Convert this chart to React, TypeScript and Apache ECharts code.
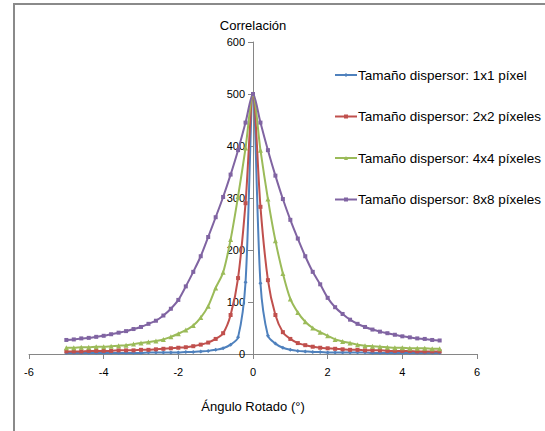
import React, { useEffect, useRef } from "react";
import * as echarts from "echarts";

const angles = [
  -5, -4.8, -4.6, -4.4, -4.2, -4, -3.8, -3.6, -3.4, -3.2, -3, -2.8, -2.6, -2.4, -2.2, -2, -1.8, -1.6, -1.4, -1.2, -1, -0.8, -0.6, -0.4, -0.2,
  0,
  0.2, 0.4, 0.6, 0.8, 1, 1.2, 1.4, 1.6, 1.8, 2, 2.2, 2.4, 2.6, 2.8, 3, 3.2, 3.4, 3.6, 3.8, 4, 4.2, 4.4, 4.6, 4.8, 5,
];

const serie1x1 = [
  2, 2, 2, 2, 2, 2, 2, 2, 2, 2, 2, 3, 3, 3, 3, 3, 4, 4, 5, 6, 8, 11, 18, 32, 138,
  500,
  136, 35, 20, 12, 8, 6, 5, 4, 4, 3, 3, 3, 3, 3, 3, 2, 2, 2, 2, 2, 2, 2, 2, 2, 2,
];
const serie2x2 = [
  5, 5, 5, 6, 6, 6, 6, 7, 7, 7, 8, 8, 9, 10, 11, 12, 13, 15, 18, 22, 29, 40, 75, 146, 290,
  500,
  283, 142, 75, 42, 29, 21, 17, 14, 12, 11, 10, 9, 8, 8, 7, 7, 7, 6, 6, 6, 6, 5, 5, 5, 5,
];
const serie4x4 = [
  12, 12, 13, 13, 14, 14, 15, 16, 17, 19, 21, 23, 25, 28, 33, 39, 46, 55, 70, 92, 127, 157, 220, 303, 396,
  500,
  392, 298, 218, 155, 106, 80, 62, 50, 42, 35, 28, 24, 21, 18, 16, 15, 14, 13, 12, 12, 11, 11, 11, 10, 10,
];
const serie8x8 = [
  27, 28, 30, 31, 33, 35, 38, 41, 44, 48, 52, 58, 64, 74, 87, 104, 130, 158, 188, 225, 263, 302, 345, 392, 445,
  500,
  445, 392, 343, 298, 258, 222, 188, 158, 134, 108, 90, 77, 66, 58, 52, 47, 43, 40, 37, 34, 32, 30, 29, 27, 26,
];

const seriesNames = [
  "Tamaño dispersor: 1x1 píxel",
  "Tamaño dispersor: 2x2 píxeles",
  "Tamaño dispersor: 4x4 píxeles",
  "Tamaño dispersor: 8x8 píxeles",
];
const seriesValues = [serie1x1, serie2x2, serie4x4, serie8x8];
const colors = ["#4F81BD", "#C0504D", "#9BBB59", "#8064A2"];
const symbols = ["diamond", "rect", "triangle", "rect"];

const xAxisTitle = "Ángulo Rotado (°)";
const yAxisTitle = "Correlación";

const FONT = "'Liberation Sans', Arial, sans-serif";

export default function App() {
  const ref = useRef<HTMLDivElement>(null);
  useEffect(() => {
    if (!ref.current) return;
    const chart = echarts.init(ref.current, null, { renderer: "svg" });
    chart.setOption({
      animation: false,
      backgroundColor: "#ffffff",
      textStyle: { fontFamily: FONT },
      graphic: [
        {
          type: "rect",
          shape: { x: 14, y: 4, width: 700, height: 600 },
          style: { fill: "none", stroke: "#8a8a8a", lineWidth: 2 },
          silent: true,
        },
      ],
      grid: { left: 29, right: 68, top: 42, bottom: 77 },
      legend: {
        orient: "vertical",
        left: 329,
        top: 63,
        itemWidth: 22,
        itemHeight: 5,
        itemGap: 27.5,
        textStyle: { fontFamily: FONT, fontSize: 13.5, color: "#000", padding: [0, 0, 0, -4] },
        data: seriesNames,
      },
      xAxis: {
        type: "value",
        min: -6,
        max: 6,
        interval: 2,
        name: xAxisTitle,
        nameLocation: "middle",
        nameGap: 46,
        nameTextStyle: { fontFamily: FONT, fontSize: 13, color: "#000" },
        axisLine: { onZero: false, lineStyle: { color: "#868686", width: 1 } },
        axisTick: { show: true, length: 5, lineStyle: { color: "#868686" } },
        axisLabel: { fontFamily: FONT, fontSize: 11, color: "#000", margin: 12 },
        splitLine: { show: false },
      },
      yAxis: {
        type: "value",
        min: 0,
        max: 600,
        interval: 100,
        offset: -224,
        name: yAxisTitle,
        nameLocation: "end",
        nameGap: 10,
        nameTextStyle: { fontFamily: FONT, fontSize: 13, color: "#000", align: "center" },
        axisLine: { show: true, onZero: false, lineStyle: { color: "#868686", width: 1 } },
        axisTick: { show: true, length: 5, lineStyle: { color: "#868686" } },
        axisLabel: { fontFamily: FONT, fontSize: 11, color: "#000", margin: 8 },
        splitLine: { show: false },
      },
      series: seriesNames.map((name, i) => ({
        name,
        type: "line",
        data: angles.map((a, k) => [a, seriesValues[i][k]]),
        smooth: 0.3,
        symbol: symbols[i],
        symbolSize: i === 2 ? 5 : 4,
        showSymbol: true,
        lineStyle: { color: colors[i], width: 2 },
        itemStyle: { color: colors[i] },
        z: 2 + i,
      })),
    });
    return () => chart.dispose();
  }, []);
  return (
    <div
      ref={ref}
      style={{ position: "fixed", left: 0, top: 0, width: 545, height: 431 }}
    />
  );
}
